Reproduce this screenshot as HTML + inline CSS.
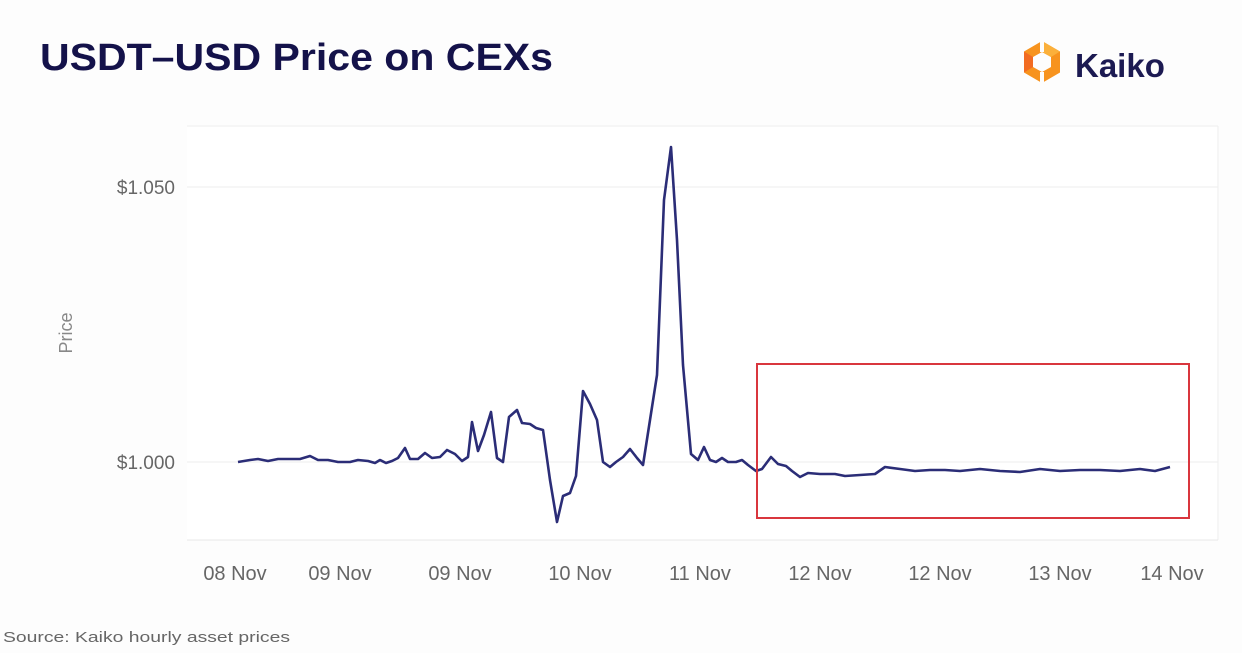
<!DOCTYPE html>
<html><head><meta charset="utf-8"><style>
body{margin:0;width:1242px;height:648px;background:#fdfdfd;overflow:hidden;font-family:"Liberation Sans",sans-serif}
</style></head><body>
<svg width="1242" height="648" viewBox="0 0 1242 648" xmlns="http://www.w3.org/2000/svg">
<rect width="1242" height="648" fill="#fdfdfd"/>
<text x="40" y="70" font-family="Liberation Sans" font-weight="bold" font-size="38" fill="#14124a" textLength="513" lengthAdjust="spacingAndGlyphs">USDT–USD Price on CEXs</text>
<g transform="translate(1042,62)">
<path d="M0,-21 L18,-10.5 L18,10.5 L0,21 L-18,10.5 L-18,-10.5 Z M0,-10 L-9,-5 L-9,5 L0,10 L9,5 L9,-5 Z" fill="#f7931e" fill-rule="evenodd"/>
<path d="M-18,-10.5 L-9,-5 L-9,5 L-18,10.5 Z" fill="#f26b21"/>
<path d="M0,-21 L18,-10.5 L9,-5 L0,-10 Z" fill="#fbb03b"/>
<rect x="-2" y="-22" width="4" height="12" fill="#fdfdfd"/>
<rect x="-2" y="10" width="4" height="12" fill="#fdfdfd"/>
</g>
<text x="1075" y="77" font-family="Liberation Sans" font-weight="bold" font-size="33" fill="#1c1a52">Kaiko</text>
<rect x="187" y="125" width="1031" height="415" fill="#fff"/>
<line x1="187" y1="126" x2="1218" y2="126" stroke="#eee"/>
<line x1="1218" y1="126" x2="1218" y2="540" stroke="#eee"/>
<line x1="187" y1="540" x2="1218" y2="540" stroke="#e8e8e8"/>
<line x1="187" y1="187" x2="1218" y2="187" stroke="#eee"/>
<line x1="187" y1="462" x2="1218" y2="462" stroke="#eee"/>
<g font-family="Liberation Sans" font-size="19" fill="#666">
<text x="175" y="194" text-anchor="end">$1.050</text>
<text x="175" y="469" text-anchor="end">$1.000</text>
<text transform="translate(72,333) rotate(-90)" text-anchor="middle" font-size="18" fill="#888">Price</text>
<g text-anchor="middle" font-size="20">
<text x="235" y="580">08 Nov</text><text x="340" y="580">09 Nov</text><text x="460" y="580">09 Nov</text>
<text x="580" y="580">10 Nov</text><text x="700" y="580">11 Nov</text><text x="820" y="580">12 Nov</text>
<text x="940" y="580">12 Nov</text><text x="1060" y="580">13 Nov</text><text x="1172" y="580">14 Nov</text>
</g>
<text x="3" y="642" font-size="15" textLength="287" lengthAdjust="spacingAndGlyphs">Source: Kaiko hourly asset prices</text>
</g>
<polyline fill="none" stroke="#2b2d77" stroke-width="2.6" stroke-linejoin="round" points="238,462 250,460 258,459 268,461 278,459 290,459 300,459 310,456 318,460 328,460 338,462 350,462 358,460 368,461 375,463 380,460 386,463 392,461 398,458 405,448 410,459 418,459 425,453 432,458 440,457 447,450 455,454 462,461 468,457 472,422 478,451 484,435 491,412 497,458 503,462 509,417 517,410 522,423 530,424 536,428 543,430 550,480 557,522 563,496 570,493 576,476 583,391 590,404 597,420 603,462 610,467 616,462 623,457 630,449 637,458 643,465 650,420 657,375 664,200 671,147 677,240 683,365 691,454 698,460 704,447 710,460 716,462 722,458 728,462 736,462 742,460 748,465 756,471 762,469 771,457 778,464 786,466 792,471 800,477 808,473 820,474 835,474 845,476 860,475 875,474 885,467 900,469 915,471 930,470 945,470 960,471 980,469 1000,471 1020,472 1040,469 1060,471 1080,470 1100,470 1120,471 1140,469 1155,471 1170,467"/>
<rect x="757" y="364" width="432" height="154" fill="none" stroke="#d9363e" stroke-width="2"/>
</svg>
</body></html>
